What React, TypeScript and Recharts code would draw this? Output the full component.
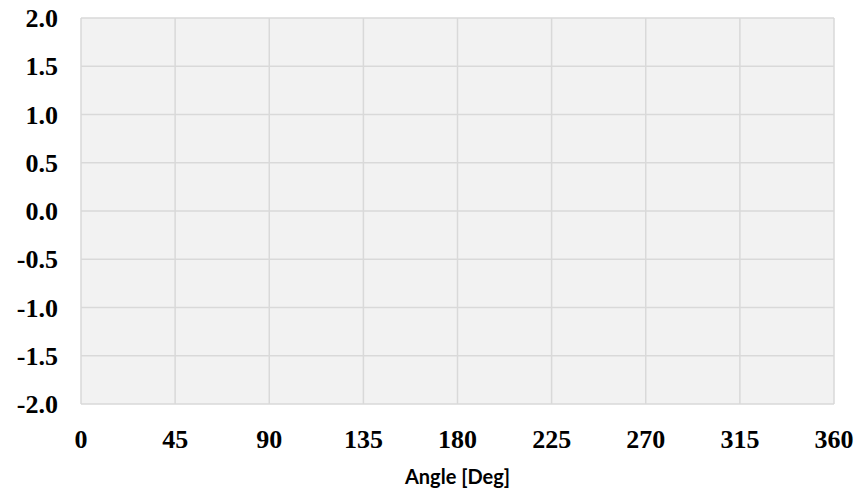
import { LineChart, XAxis, YAxis, CartesianGrid, Line } from "recharts";

const angleTicks = [0, 45, 90, 135, 180, 225, 270, 315, 360];
const valueTicks = [-2.0, -1.5, -1.0, -0.5, 0.0, 0.5, 1.0, 1.5, 2.0];
// the chart carries no plotted series, only the empty grid
const seriesValues: (number | null)[] = angleTicks.map(() => null);

const chartData = angleTicks.map((angle, i) => ({ angle, value: seriesValues[i] }));

const tickStyle = {
  fontFamily: "'Liberation Serif', 'Times New Roman', serif",
  fontWeight: 700,
  fontSize: 26,
  fill: "#000",
};

export default function App() {
  return (
    <div style={{ position: "absolute", left: 0, top: 0, background: "#fff" }}>
      <LineChart
        width={861}
        height={496}
        data={chartData}
        margin={{ top: 18, right: 27, bottom: 0, left: 0 }}
      >
        <CartesianGrid fill="#f2f2f2" stroke="#d9d9d9" strokeWidth={1.5} />
        <XAxis
          dataKey="angle"
          type="number"
          domain={[0, 360]}
          ticks={angleTicks}
          height={92}
          axisLine={false}
          tickLine={false}
          tickSize={0}
          tickMargin={26}
          tick={tickStyle}
          label={{
            value: "Angle [Deg]",
            position: "insideBottom",
            offset: 12,
            style: {
              fontFamily: "Lato, 'Liberation Sans', sans-serif",
              fontWeight: 700,
              fontSize: 20,
              fill: "#000",
            },
          }}
        />
        <YAxis
          type="number"
          domain={[-2, 2]}
          allowDataOverflow
          ticks={valueTicks}
          interval={0}
          width={81}
          axisLine={false}
          tickLine={false}
          tickSize={0}
          tickMargin={23}
          tick={tickStyle}
          tickFormatter={(v: number) => v.toFixed(1)}
        />
        <Line dataKey="value" stroke="#4472c4" dot={false} isAnimationActive={false} />
      </LineChart>
    </div>
  );
}
